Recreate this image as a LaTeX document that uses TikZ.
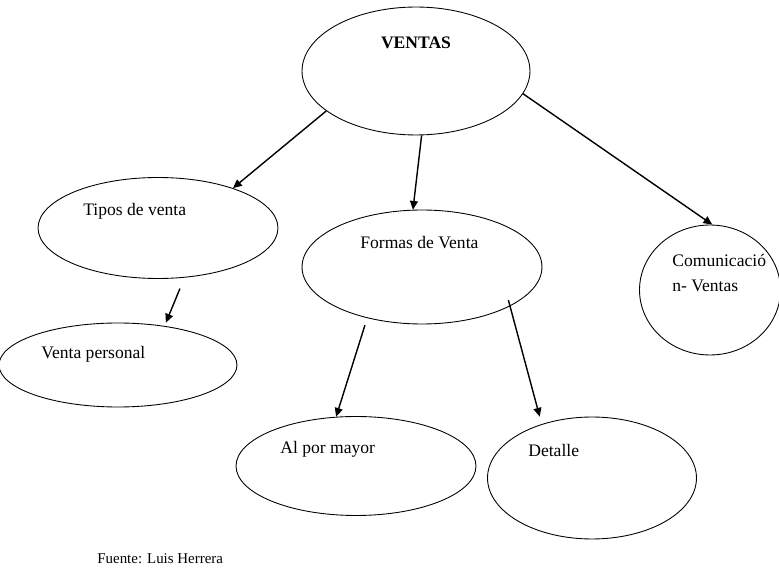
\documentclass[tikz,border=0pt]{standalone}
\usepackage{fontspec}
\setmainfont{Liberation Serif}
\usetikzlibrary{shapes.geometric,arrows.meta}
\tikzset{
  elipse/.style={draw, ellipse, line width=0.5pt, inner sep=0pt},
  flecha/.style={-{Triangle[length=5pt,width=4.5pt]}, line width=0.8pt},
  texto/.style={anchor=base west, inner sep=0pt, font=\fontsize{10}{12}\selectfont}
}
\begin{document}
\begin{tikzpicture}[x=0.02cm, y=-0.02cm]
\useasboundingbox (0,0) rectangle (779,574);

% Elipses
\node[elipse, minimum width=4.56cm, minimum height=2.56cm] (ventas) at (416,71) {};
\node[elipse, minimum width=4.8cm, minimum height=2.02cm] (tipos) at (158,228) {};
\node[elipse, minimum width=4.76cm, minimum height=1.68cm] (personal) at (118,365) {};
\node[elipse, minimum width=4.8cm, minimum height=2.28cm] (formas) at (422,267) {};
\node[elipse, minimum width=2.82cm, minimum height=2.6cm] (comunic) at (710,290) {};
\node[elipse, minimum width=4.8cm, minimum height=1.98cm] (mayor) at (356,466) {};
\node[elipse, minimum width=4.18cm, minimum height=2.44cm] (detalle) at (592,478) {};

% Textos
\node[texto, font=\bfseries\fontsize{10}{12}\selectfont, anchor=base] (tventas) at (416,49) {VENTAS};
\node[texto] (ttipos) at (83,216) {Tipos de venta};
\node[texto] (tpersonal) at (41,359) {Venta personal};
\node[texto] (tformas) at (360,249) {Formas de Venta};
\node[texto] (tcomunic1) at (672,267) {Comunicació};
\node[texto] (tcomunic2) at (672,292) {n- Ventas};
\node[texto] (tmayor) at (280,454) {Al por mayor};
\node[texto] (tdetalle) at (528,457) {Detalle};
\node[texto, font=\fontsize{8.5}{10}\selectfont] (fuente) at (97,564) {Fuente: Luis Herrera};

% Flechas
\draw[flecha] (ventas.204) -- (tipos.28);
\draw[flecha] (ventas.275) -- (formas.99);
\draw[flecha] (ventas.348) -- (comunic.88);
\draw[flecha, shorten <=0.236cm, shorten >=0.07cm] (tipos.298) -- (personal.40);
\draw[flecha, shorten <=0.15cm] (formas.223) -- (mayor.112);
\draw[flecha, shorten <=-0.124cm, shorten >=0.154cm] (formas.336) -- (detalle.133);
\end{tikzpicture}
\end{document}
